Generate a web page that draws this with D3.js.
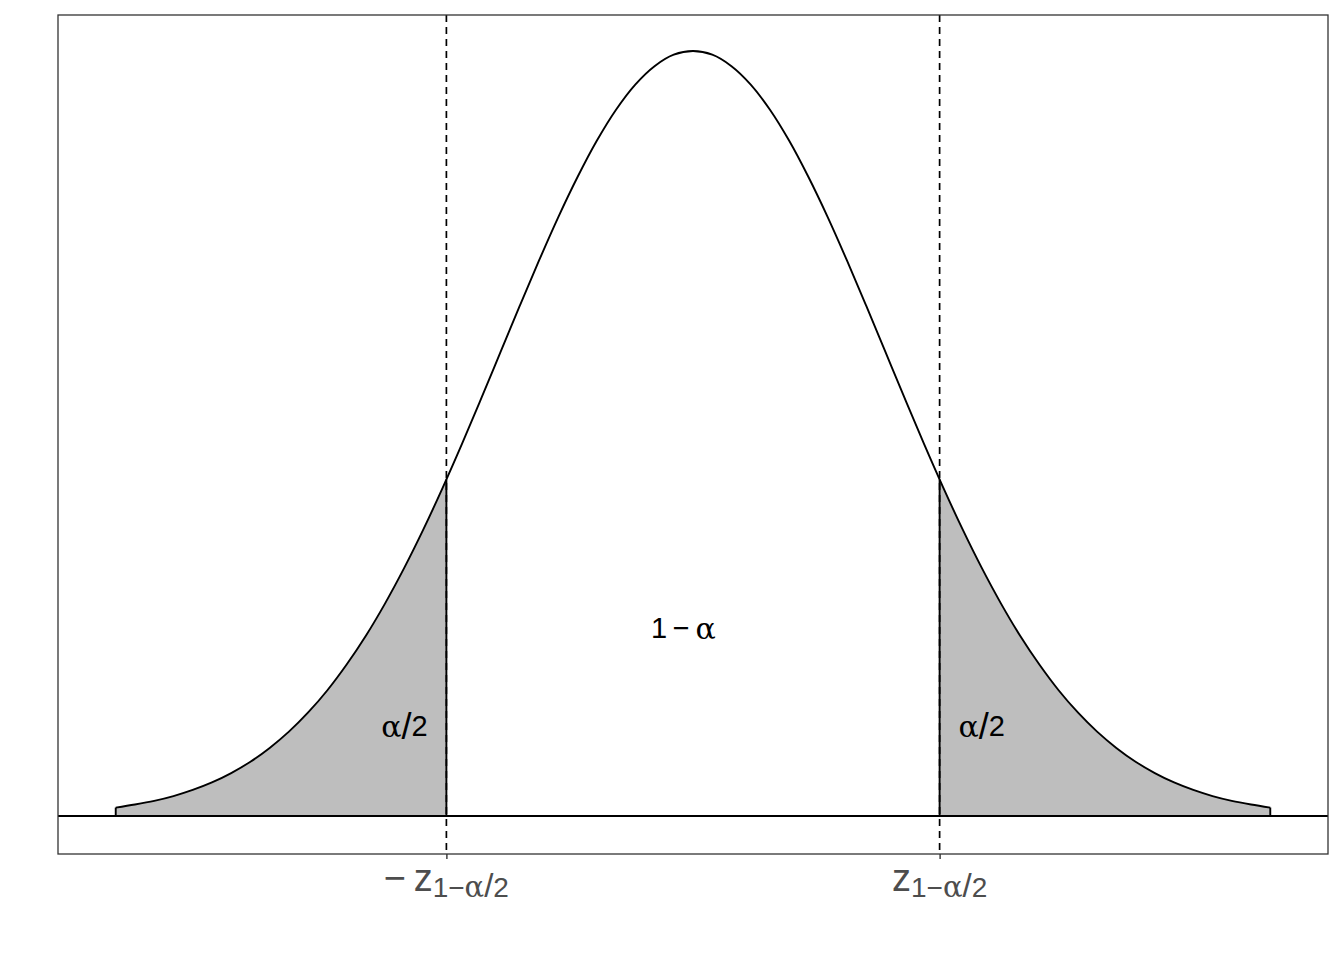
<!DOCTYPE html>
<html>
<head>
<meta charset="utf-8">
<script src="https://cdn.jsdelivr.net/npm/d3@7"></script>
<style>
  html, body { margin: 0; padding: 0; background: #fff; }
  svg { display: block; }
  text { font-family: "Liberation Sans", Arial, sans-serif; }
  .greek { font-family: "DejaVu Serif", "Liberation Serif", serif; }
</style>
</head>
<body>
<svg id="chart" width="1344" height="960"></svg>
<script>
// ---- data ----
const xs = [-3.0,-2.9,-2.8,-2.7,-2.6,-2.5,-2.4,-2.3,-2.2,-2.1,-2.0,-1.9,-1.8,-1.7,-1.6,-1.5,-1.4,-1.3,-1.2,-1.1,-1.0,-0.9,-0.8,-0.7,-0.6,-0.5,-0.4,-0.3,-0.2,-0.1,0.0,0.1,0.2,0.3,0.4,0.5,0.6,0.7,0.8,0.9,1.0,1.1,1.2,1.3,1.4,1.5,1.6,1.7,1.8,1.9,2.0,2.1,2.2,2.3,2.4,2.5,2.6,2.7,2.8,2.9,3.0];
const density = [0.0044,0.0060,0.0079,0.0104,0.0136,0.0175,0.0224,0.0283,0.0355,0.0440,0.0540,0.0656,0.0790,0.0940,0.1109,0.1295,0.1497,0.1714,0.1942,0.2179,0.2420,0.2661,0.2897,0.3123,0.3332,0.3521,0.3683,0.3814,0.3910,0.3970,0.3989,0.3970,0.3910,0.3814,0.3683,0.3521,0.3332,0.3123,0.2897,0.2661,0.2420,0.2179,0.1942,0.1714,0.1497,0.1295,0.1109,0.0940,0.0790,0.0656,0.0540,0.0440,0.0355,0.0283,0.0224,0.0175,0.0136,0.0104,0.0079,0.0060,0.0044];
const criticals = [-1.2816, 1.2816];
const criticalDensity = 0.1755;
const tickMain = ["\u2212\u2009z", "z"];
const tickSub = ["1\u2212", "\u03b1", "/", "2"];
const annotations = [
  {x: -0.05, y: 0.098, parts: ["1\u2009\u2212\u2009", "\u03b1"]},
  {x: -1.5, y: 0.047, parts: ["\u03b1", "/", "2"]},
  {x: 1.5, y: 0.047, parts: ["\u03b1", "/", "2"]}
];
const xDomain = [-3.3, 3.3];
const yDomain = [-0.0198, 0.4177];

// ---- layout ----
const svg = d3.select("#chart");
const panel = {left: 58, right: 1328, top: 15, bottom: 854};
const x = d3.scaleLinear().domain(xDomain).range([panel.left, panel.right]);
const y = d3.scaleLinear().domain(yDomain).range([panel.bottom, panel.top]);

const pts = xs.map((v, i) => ({x: v, y: density[i]}));

svg.append("defs").selectAll("clipPath")
  .data([["clipL", xDomain[0], criticals[0]], ["clipR", criticals[1], xDomain[1]]])
  .join("clipPath").attr("id", d => d[0])
  .append("rect")
  .attr("x", d => x(d[1])).attr("width", d => x(d[2]) - x(d[1]))
  .attr("y", panel.top).attr("height", panel.bottom - panel.top);

const area = d3.area().x(d => x(d.x)).y0(y(0)).y1(d => y(d.y)).curve(d3.curveCatmullRom);
const line = d3.line().x(d => x(d.x)).y(d => y(d.y)).curve(d3.curveCatmullRom);
const LW = 1.9;

// shaded tails
["clipL", "clipR"].forEach(id => {
  svg.append("path").datum(pts)
    .attr("d", area)
    .attr("clip-path", `url(#${id})`)
    .attr("fill", "#bebebe")
    .attr("stroke", "none");
});

// outer edges of the tails
[0, xs.length - 1].forEach(i => {
  svg.append("line")
    .attr("x1", x(xs[i])).attr("x2", x(xs[i]))
    .attr("y1", y(0)).attr("y2", y(density[i]))
    .attr("stroke", "#000").attr("stroke-width", LW);
});

// solid verticals at critical values
criticals.forEach(c => {
  svg.append("line")
    .attr("x1", x(c)).attr("x2", x(c))
    .attr("y1", y(0)).attr("y2", y(criticalDensity))
    .attr("stroke", "#000").attr("stroke-width", LW);
});

// dashed verticals full height
criticals.forEach(c => {
  svg.append("line")
    .attr("x1", x(c)).attr("x2", x(c))
    .attr("y1", panel.top).attr("y2", panel.bottom)
    .attr("stroke", "#000").attr("stroke-width", 1.7)
    .attr("stroke-dasharray", "7,5");
});

// baseline
svg.append("line")
  .attr("x1", panel.left).attr("x2", panel.right)
  .attr("y1", y(0)).attr("y2", y(0))
  .attr("stroke", "#000").attr("stroke-width", LW);

// density curve
svg.append("path").datum(pts)
  .attr("d", line)
  .attr("fill", "none").attr("stroke", "#000").attr("stroke-width", LW);

// annotations
const partSize = p => p === "\u03b1" ? 30 : (p === "/" ? 36 : 29);
annotations.forEach(a => {
  const t = svg.append("text")
    .attr("x", x(a.x)).attr("y", y(a.y))
    .attr("text-anchor", "middle").attr("dominant-baseline", "central")
    .attr("font-size", 29).attr("fill", "#000");
  a.parts.forEach(p => {
    t.append("tspan").text(p)
      .attr("class", p === "\u03b1" ? "greek" : null)
      .attr("font-size", partSize(p));
  });
});

// panel border
svg.append("rect")
  .attr("x", panel.left).attr("y", panel.top)
  .attr("width", panel.right - panel.left).attr("height", panel.bottom - panel.top)
  .attr("fill", "none").attr("stroke", "#333").attr("stroke-width", 1.3);

// x axis ticks and labels
const axis = d3.axisBottom(x).tickValues(criticals).tickSize(5).tickFormat("");
const g = svg.append("g").attr("transform", `translate(0,${panel.bottom})`).call(axis);
g.select(".domain").remove();
g.selectAll(".tick line").attr("stroke", "#333").attr("stroke-width", 1.4);

criticals.forEach((c, i) => {
  const t = svg.append("text")
    .attr("x", x(c)).attr("y", 891)
    .attr("text-anchor", "middle").attr("fill", "#4d4d4d").attr("font-size", 38);
  t.append("tspan").text(tickMain[i]);
  tickSub.forEach((p, j) => {
    const s = t.append("tspan").text(p)
      .attr("font-size", p === "\u03b1" ? 29 : (p === "/" ? 33 : 28))
      .attr("class", p === "\u03b1" ? "greek" : null);
    if (j === 0) s.attr("dy", 6);
  });
});
</script>
</body>
</html>
